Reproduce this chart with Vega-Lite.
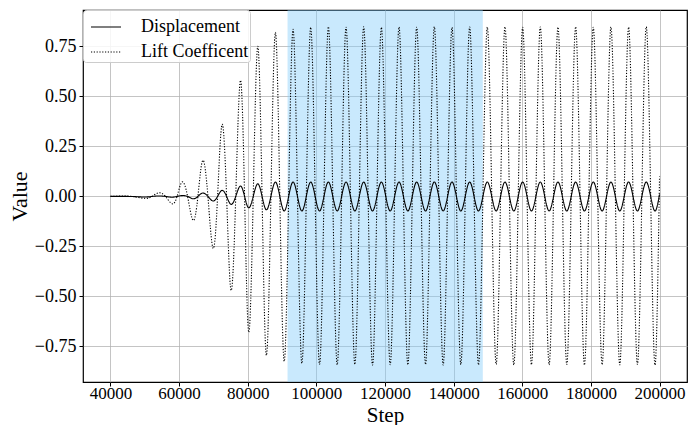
{
  "$schema": "https://vega.github.io/schema/vega-lite/v6.json",
  "width": 604,
  "height": 372,
  "autosize": "none",
  "padding": {"left": 83, "top": 10, "right": 6, "bottom": 43},
  "config": {
    "font": "Liberation Serif",
    "view": {"stroke": "black", "strokeWidth": 1.2},
    "axis": {
      "labelFont": "Liberation Serif",
      "titleFont": "Liberation Serif",
      "labelFontSize": 18,
      "titleFontSize": 22,
      "titleFontWeight": "normal",
      "labelColor": "black",
      "titleColor": "black",
      "gridColor": "#b0b0b0",
      "gridOpacity": 0.75,
      "gridWidth": 1,
      "tickColor": "black",
      "tickSize": 4,
      "tickWidth": 1,
      "domain": false,
      "labelPadding": 3
    },
    "legend": {
      "orient": "top-left",
      "offset": 0,
      "title": null,
      "symbolType": "stroke",
      "symbolSize": 900,
      "symbolStrokeWidth": 1.2,
      "symbolOffset": 6,
      "labelFont": "Liberation Serif",
      "labelFontSize": 18,
      "labelColor": "black",
      "fillColor": "rgba(255,255,255,0.85)",
      "strokeColor": "#cccccc",
      "cornerRadius": 3,
      "padding": 1,
      "rowPadding": -4,
      "labelOffset": 19
    }
  },
  "layer": [
    {
      "data": {"values": [{"start": 91600, "end": 148500}]},
      "mark": {"type": "rect", "color": "#87cefa", "opacity": 0.45},
      "encoding": {
        "x": {"field": "start", "type": "quantitative", "scale": {"domain": [32000, 208000], "nice": false, "zero": false}},
        "x2": {"field": "end"}
      }
    },
    {
      "data": {
        "values": [
          {"step": 40000, "Displacement": 0, "Lift Coefficent": 0},
          {"step": 44000, "Displacement": 0, "Lift Coefficent": 0.002},
          {"step": 47000, "Displacement": -0.001, "Lift Coefficent": -0.002},
          {"step": 50196, "Displacement": -0.003, "Lift Coefficent": -0.01},
          {"step": 52138, "Displacement": 0, "Lift Coefficent": 0},
          {"step": 54080, "Displacement": 0.002, "Lift Coefficent": 0.018},
          {"step": 56022, "Displacement": 0, "Lift Coefficent": 0},
          {"step": 57964, "Displacement": -0.004, "Lift Coefficent": -0.037},
          {"step": 59420, "Displacement": 0, "Lift Coefficent": 0},
          {"step": 60876, "Displacement": 0.004, "Lift Coefficent": 0.072},
          {"step": 62478, "Displacement": 0, "Lift Coefficent": 0},
          {"step": 64081, "Displacement": -0.012, "Lift Coefficent": -0.12},
          {"step": 65488, "Displacement": 0, "Lift Coefficent": 0},
          {"step": 66896, "Displacement": 0.017, "Lift Coefficent": 0.18},
          {"step": 68400, "Displacement": 0, "Lift Coefficent": 0},
          {"step": 69907, "Displacement": -0.023, "Lift Coefficent": -0.26},
          {"step": 71218, "Displacement": 0, "Lift Coefficent": 0},
          {"step": 72528, "Displacement": 0.03, "Lift Coefficent": 0.36},
          {"step": 73839, "Displacement": 0, "Lift Coefficent": 0},
          {"step": 75150, "Displacement": -0.04, "Lift Coefficent": -0.47},
          {"step": 76509, "Displacement": 0, "Lift Coefficent": 0},
          {"step": 77868, "Displacement": 0.052, "Lift Coefficent": 0.58},
          {"step": 79083, "Displacement": 0, "Lift Coefficent": 0},
          {"step": 80297, "Displacement": -0.057, "Lift Coefficent": -0.68},
          {"step": 81607, "Displacement": 0, "Lift Coefficent": 0},
          {"step": 82917, "Displacement": 0.063, "Lift Coefficent": 0.75},
          {"step": 84180, "Displacement": 0, "Lift Coefficent": 0},
          {"step": 85443, "Displacement": -0.067, "Lift Coefficent": -0.795},
          {"step": 86754, "Displacement": 0, "Lift Coefficent": 0},
          {"step": 88065, "Displacement": 0.072, "Lift Coefficent": 0.82},
          {"step": 89351, "Displacement": 0, "Lift Coefficent": 0},
          {"step": 90638, "Displacement": -0.073, "Lift Coefficent": -0.825},
          {"step": 91924, "Displacement": 0, "Lift Coefficent": 0},
          {"step": 93211, "Displacement": 0.072, "Lift Coefficent": 0.835},
          {"step": 94497, "Displacement": 0, "Lift Coefficent": 0},
          {"step": 95784, "Displacement": -0.073, "Lift Coefficent": -0.835},
          {"step": 97070, "Displacement": 0, "Lift Coefficent": 0},
          {"step": 98357, "Displacement": 0.072, "Lift Coefficent": 0.845},
          {"step": 99644, "Displacement": 0, "Lift Coefficent": 0},
          {"step": 100930, "Displacement": -0.073, "Lift Coefficent": -0.84},
          {"step": 102217, "Displacement": 0, "Lift Coefficent": 0},
          {"step": 103503, "Displacement": 0.072, "Lift Coefficent": 0.848},
          {"step": 104790, "Displacement": 0, "Lift Coefficent": 0},
          {"step": 106076, "Displacement": -0.073, "Lift Coefficent": -0.842},
          {"step": 107363, "Displacement": 0, "Lift Coefficent": 0},
          {"step": 108649, "Displacement": 0.072, "Lift Coefficent": 0.846},
          {"step": 109936, "Displacement": 0, "Lift Coefficent": 0},
          {"step": 111222, "Displacement": -0.073, "Lift Coefficent": -0.84},
          {"step": 112509, "Displacement": 0, "Lift Coefficent": 0},
          {"step": 113795, "Displacement": 0.072, "Lift Coefficent": 0.848},
          {"step": 115082, "Displacement": 0, "Lift Coefficent": 0},
          {"step": 116368, "Displacement": -0.073, "Lift Coefficent": -0.843},
          {"step": 117655, "Displacement": 0, "Lift Coefficent": 0},
          {"step": 118941, "Displacement": 0.072, "Lift Coefficent": 0.845},
          {"step": 120228, "Displacement": 0, "Lift Coefficent": 0},
          {"step": 121514, "Displacement": -0.073, "Lift Coefficent": -0.841},
          {"step": 122801, "Displacement": 0, "Lift Coefficent": 0},
          {"step": 124087, "Displacement": 0.072, "Lift Coefficent": 0.847},
          {"step": 125374, "Displacement": 0, "Lift Coefficent": 0},
          {"step": 126660, "Displacement": -0.073, "Lift Coefficent": -0.842},
          {"step": 127947, "Displacement": 0, "Lift Coefficent": 0},
          {"step": 129233, "Displacement": 0.072, "Lift Coefficent": 0.846},
          {"step": 130520, "Displacement": 0, "Lift Coefficent": 0},
          {"step": 131806, "Displacement": -0.073, "Lift Coefficent": -0.84},
          {"step": 133093, "Displacement": 0, "Lift Coefficent": 0},
          {"step": 134379, "Displacement": 0.072, "Lift Coefficent": 0.848},
          {"step": 135666, "Displacement": 0, "Lift Coefficent": 0},
          {"step": 136952, "Displacement": -0.073, "Lift Coefficent": -0.843},
          {"step": 138239, "Displacement": 0, "Lift Coefficent": 0},
          {"step": 139525, "Displacement": 0.072, "Lift Coefficent": 0.845},
          {"step": 140812, "Displacement": 0, "Lift Coefficent": 0},
          {"step": 142098, "Displacement": -0.073, "Lift Coefficent": -0.841},
          {"step": 143385, "Displacement": 0, "Lift Coefficent": 0},
          {"step": 144671, "Displacement": 0.072, "Lift Coefficent": 0.847},
          {"step": 145958, "Displacement": 0, "Lift Coefficent": 0},
          {"step": 147244, "Displacement": -0.073, "Lift Coefficent": -0.842},
          {"step": 148531, "Displacement": 0, "Lift Coefficent": 0},
          {"step": 149817, "Displacement": 0.072, "Lift Coefficent": 0.846},
          {"step": 151104, "Displacement": 0, "Lift Coefficent": 0},
          {"step": 152390, "Displacement": -0.073, "Lift Coefficent": -0.84},
          {"step": 153677, "Displacement": 0, "Lift Coefficent": 0},
          {"step": 154963, "Displacement": 0.072, "Lift Coefficent": 0.848},
          {"step": 156250, "Displacement": 0, "Lift Coefficent": 0},
          {"step": 157536, "Displacement": -0.073, "Lift Coefficent": -0.843},
          {"step": 158823, "Displacement": 0, "Lift Coefficent": 0},
          {"step": 160109, "Displacement": 0.072, "Lift Coefficent": 0.845},
          {"step": 161396, "Displacement": 0, "Lift Coefficent": 0},
          {"step": 162682, "Displacement": -0.073, "Lift Coefficent": -0.841},
          {"step": 163969, "Displacement": 0, "Lift Coefficent": 0},
          {"step": 165255, "Displacement": 0.072, "Lift Coefficent": 0.847},
          {"step": 166542, "Displacement": 0, "Lift Coefficent": 0},
          {"step": 167828, "Displacement": -0.073, "Lift Coefficent": -0.842},
          {"step": 169115, "Displacement": 0, "Lift Coefficent": 0},
          {"step": 170401, "Displacement": 0.072, "Lift Coefficent": 0.846},
          {"step": 171688, "Displacement": 0, "Lift Coefficent": 0},
          {"step": 172974, "Displacement": -0.073, "Lift Coefficent": -0.84},
          {"step": 174261, "Displacement": 0, "Lift Coefficent": 0},
          {"step": 175547, "Displacement": 0.072, "Lift Coefficent": 0.848},
          {"step": 176834, "Displacement": 0, "Lift Coefficent": 0},
          {"step": 178120, "Displacement": -0.073, "Lift Coefficent": -0.843},
          {"step": 179407, "Displacement": 0, "Lift Coefficent": 0},
          {"step": 180693, "Displacement": 0.072, "Lift Coefficent": 0.845},
          {"step": 181980, "Displacement": 0, "Lift Coefficent": 0},
          {"step": 183266, "Displacement": -0.073, "Lift Coefficent": -0.841},
          {"step": 184553, "Displacement": 0, "Lift Coefficent": 0},
          {"step": 185839, "Displacement": 0.072, "Lift Coefficent": 0.847},
          {"step": 187126, "Displacement": 0, "Lift Coefficent": 0},
          {"step": 188412, "Displacement": -0.073, "Lift Coefficent": -0.842},
          {"step": 189699, "Displacement": 0, "Lift Coefficent": 0},
          {"step": 190985, "Displacement": 0.072, "Lift Coefficent": 0.846},
          {"step": 192272, "Displacement": 0, "Lift Coefficent": 0},
          {"step": 193558, "Displacement": -0.073, "Lift Coefficent": -0.84},
          {"step": 194845, "Displacement": 0, "Lift Coefficent": 0},
          {"step": 196131, "Displacement": 0.072, "Lift Coefficent": 0.848},
          {"step": 197418, "Displacement": 0, "Lift Coefficent": 0},
          {"step": 198704, "Displacement": -0.073, "Lift Coefficent": -0.843},
          {"step": 200000, "Displacement": 0.01, "Lift Coefficent": 0.1}
        ]
      },
      "transform": [{"fold": ["Displacement", "Lift Coefficent"], "as": ["series", "value"]}],
      "mark": {"type": "line", "interpolate": "natural", "color": "black", "strokeWidth": 1.1},
      "encoding": {
        "x": {
          "field": "step", "type": "quantitative", "title": "Step",
          "scale": {"domain": [32000, 208000], "nice": false, "zero": false},
          "axis": {"values": [40000, 60000, 80000, 100000, 120000, 140000, 160000, 180000, 200000], "format": "d", "labelFontSize": 17, "labelPadding": -1, "titleFontSize": 21, "titleY": 39, "titleBaseline": "alphabetic"}
        },
        "y": {
          "field": "value", "type": "quantitative", "title": "Value",
          "scale": {"domain": [-0.928, 0.932], "nice": false, "zero": false},
          "axis": {"values": [-0.75, -0.5, -0.25, 0, 0.25, 0.5, 0.75], "format": ".2f", "titlePadding": 3}
        },
        "strokeDash": {
          "field": "series", "type": "nominal",
          "scale": {"domain": ["Displacement", "Lift Coefficent"], "range": [[1, 0], [1.2, 1.6]]},
          "legend": {"symbolStrokeColor": "black"}
        }
      }
    }
  ]
}
